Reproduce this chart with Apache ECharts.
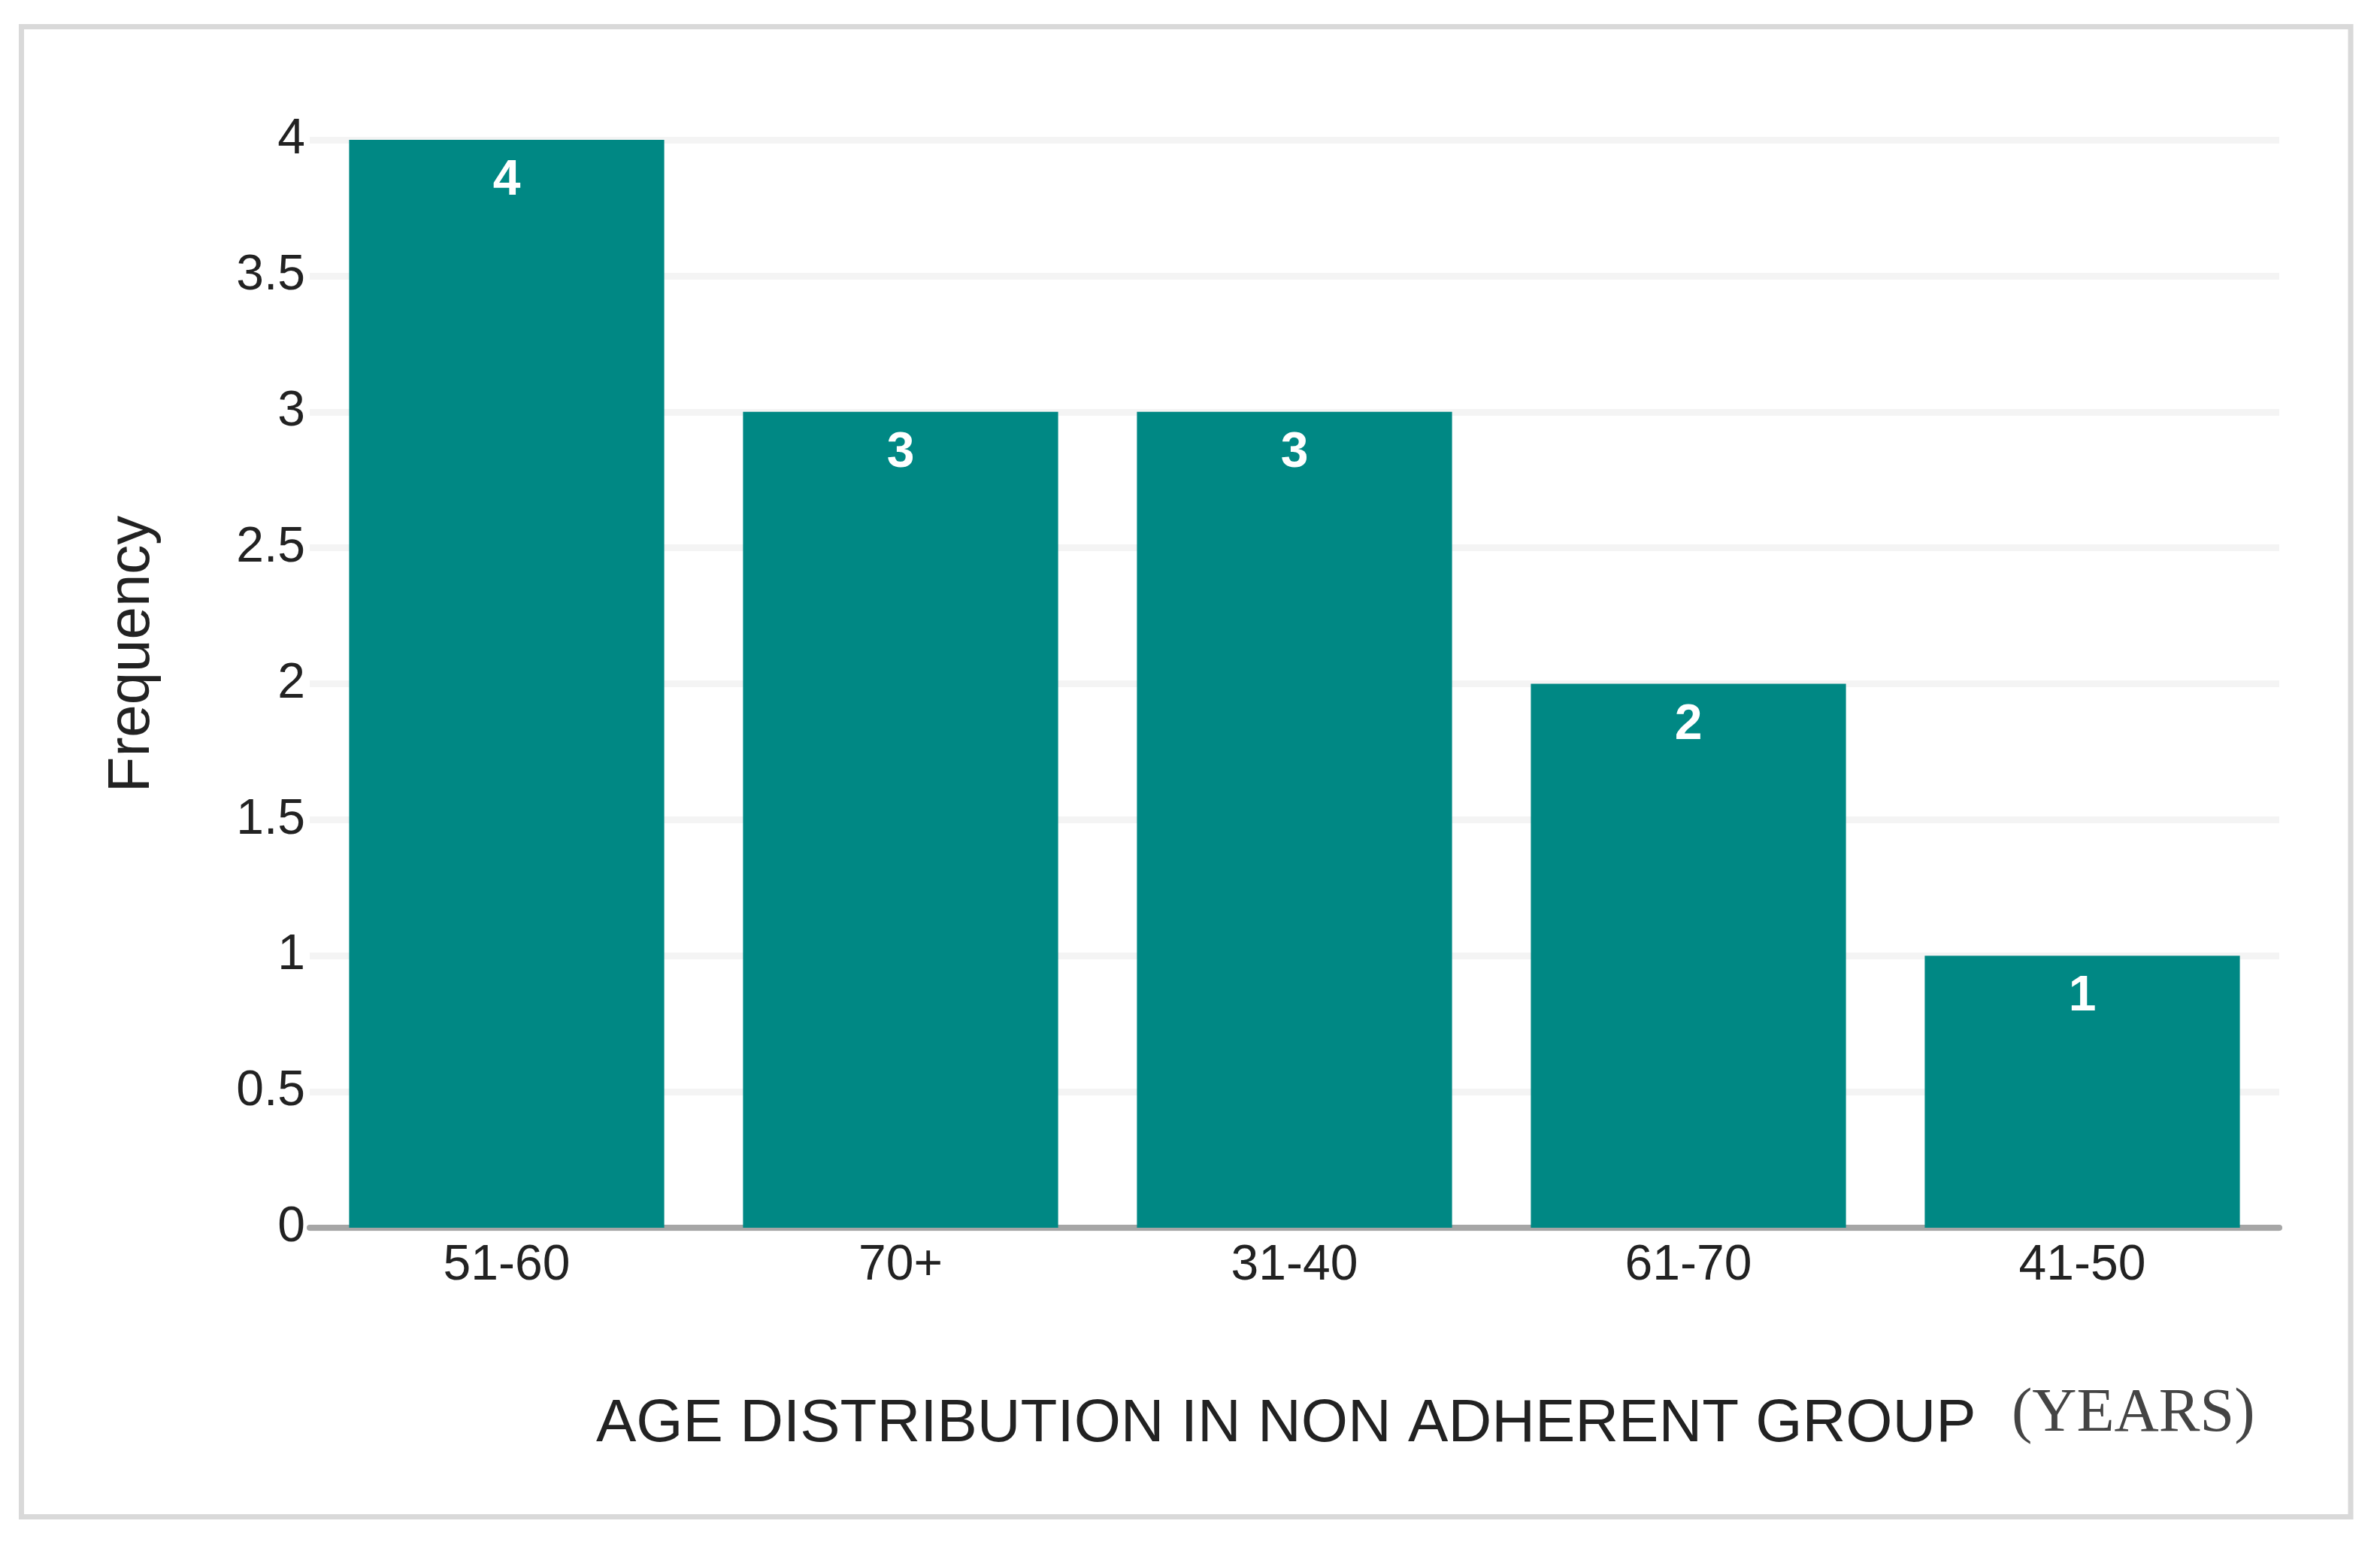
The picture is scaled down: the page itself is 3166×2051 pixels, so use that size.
<!DOCTYPE html>
<html>
<head>
<meta charset="utf-8">
<script src="https://cdn.jsdelivr.net/npm/echarts@6/dist/echarts.min.js"></script>
<style>
  html, body { margin: 0; padding: 0; background: #ffffff; }
  #chart { width: 3166px; height: 2051px; }
</style>
</head>
<body>
<div id="chart"></div>
<script>
// ---- data ----
var categories = ['51-60', '70+', '31-40', '61-70', '41-50'];
var frequencies = [4, 3, 3, 2, 1];
var yTicks = { min: 0, max: 4, interval: 0.5 };
var yAxisTitle = 'Frequency';
var xAxisTitleMain = 'AGE DISTRIBUTION IN NON ADHERENT GROUP';
var xAxisTitleUnit = '(YEARS)';

var sans = '"Liberation Sans", Arial, sans-serif';
var serif = '"Liberation Serif", "Times New Roman", serif';

var chart = echarts.init(document.getElementById('chart'), null, { renderer: 'canvas' });

chart.setOption({
  backgroundColor: '#ffffff',
  animation: false,
  grid: { left: 412, right: 134, top: 186, bottom: 418, containLabel: false },
  xAxis: {
    type: 'category',
    data: categories,
    axisLine: { show: true, lineStyle: { color: '#a6a6a6', width: 8 } },
    axisTick: { show: false },
    axisLabel: { margin: 18, fontSize: 66, fontFamily: sans, color: '#222222' },
    splitLine: { show: false }
  },
  yAxis: {
    type: 'value',
    min: yTicks.min,
    max: yTicks.max,
    interval: yTicks.interval,
    axisLine: { show: false },
    axisTick: { show: false },
    axisLabel: { margin: 6, fontSize: 66, fontFamily: sans, color: '#222222' },
    splitLine: { show: true, lineStyle: { color: '#f4f4f4', width: 9 } }
  },
  series: [{
    type: 'bar',
    data: frequencies,
    barCategoryGap: '20%',
    itemStyle: { color: '#008884' },
    label: {
      show: true,
      position: 'insideTop',
      distance: 22,
      color: '#ffffff',
      fontSize: 66,
      fontWeight: 'bold',
      fontFamily: sans
    }
  }],
  graphic: [
    {
      type: 'rect',
      shape: { x: 28.5, y: 35.5, width: 3098.5, height: 1982 },
      style: { fill: 'none', stroke: '#d9d9d9', lineWidth: 7 },
      silent: true
    },
    {
      type: 'text',
      x: 176,
      y: 870,
      rotation: Math.PI / 2,
      style: {
        text: yAxisTitle,
        fontSize: 78,
        fontFamily: sans,
        fill: '#222222',
        align: 'center',
        verticalAlign: 'middle'
      }
    },
    {
      type: 'text',
      x: 793,
      y: 1895,
      style: {
        text: xAxisTitleMain,
        fontSize: 80,
        fontFamily: sans,
        fill: '#222222',
        align: 'left',
        verticalAlign: 'middle'
      }
    },
    {
      type: 'text',
      x: 2676,
      y: 1881,
      style: {
        text: xAxisTitleUnit,
        fontSize: 82,
        fontFamily: serif,
        fill: '#444444',
        align: 'left',
        verticalAlign: 'middle'
      }
    }
  ]
});
</script>
</body>
</html>
